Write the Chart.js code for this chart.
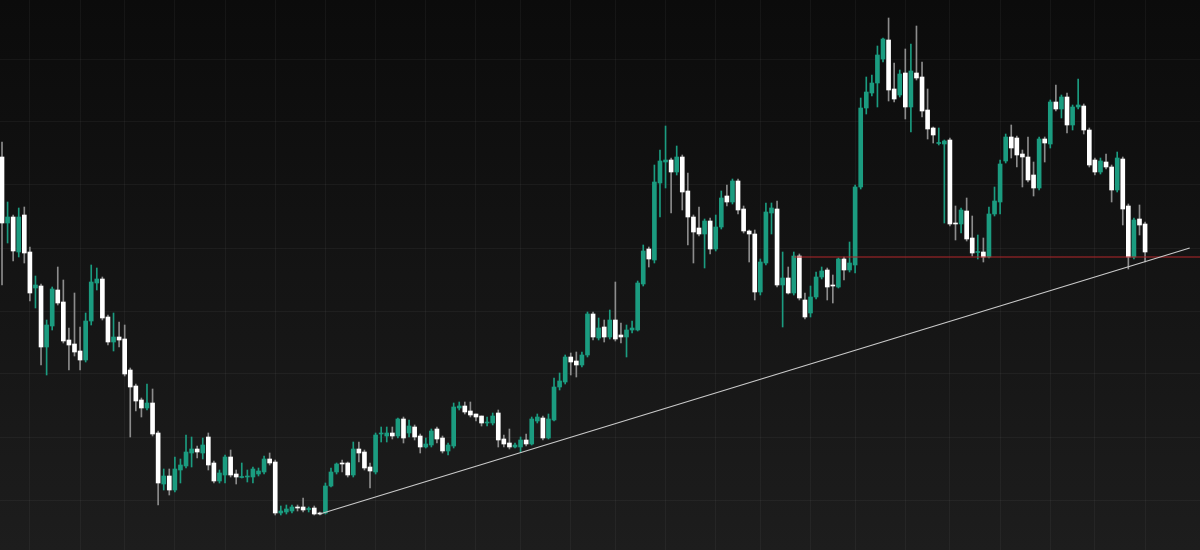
<!DOCTYPE html>
<html><head><meta charset="utf-8">
<script src="https://cdn.jsdelivr.net/npm/chart.js@4.4.1/dist/chart.umd.min.js"></script>
<style>
html,body{margin:0;padding:0;background:#121212;}
#wrap{width:1200px;height:550px;background:linear-gradient(to bottom,#0b0b0b 0%,#1d1d1d 100%);}
canvas{display:block;}
</style></head><body>
<div id="wrap"><canvas id="c" width="1200" height="550"></canvas></div>
<script>
const opens = [393,327,333,298,335,298,262,264,203,224,260,248,210,206,199,190,229,267,271,233,208,213,211,180,164,150,142,147,117,66,74,60,80,84,97,101,97,113,87,69,75,93,76,72.5,73,73,76,78,91,88,37,38,39,43,43,40.5,42,37,37,64,78,87,87,75,101,98,83,78,116,114,117,114,131,117,123,114,103,105,121,112,99,104,142,144,139,136,134,127,127,137,111,107,103,103,110,106,129,132,112,130,163,168,193,189,185,195,236,212,223,213,230,215,213,220,220,266,301,290,367,388,390,378,393,359,333,322,316,329,301,323,354,348,369,341,319,316,258,287,337,341,265,272,257,294,250,237,253,273,280,265,263,291,280,285,363,442,457,467,491,510,461,455,477,443,477,473,440,422,406.5,406,410,327,326,339,312,297.5,298,293,336,348,389,413,412,396,393,375,362,411,406,448,441,453,425,443,444,420,390,378,388,383,360,391,344,293,331,326];
const highs = [408,348,335,342,343,303,274,266,230,263,283,270,222,257,223,237,285,282,273,235,237,228,225,182,166,152,166,161,119,81,81,93,91,115,113,104,112,117,89,80,95,100,80,87,80,83,82,94,97,90,44,45,45,45,52,43,44,38,67,82,87,90,88,108,108,100,87,117,123,123,123,132,133,130,125,116,112,121,123,114,107,147,148,148,148,136,134,133,137,140,115,121,107,113,116,133,136,134,136,172,177,195,197,198,198,238,238,232,230,240,268,227,225,229,269,305,303,385,400,424,392,404,395,377,335,343,331,332,335,359,365,371,371,344,320,320,291,347,347,349,298,283,298,296,257,264,278,283,282,275,292,293,308,365,452,473,475,504,512,532,487,480,501,506,524,488,461,423,422,410,412,344,342,352,334,315,312,343,363,390,416,425,414,400,413,388,413,413,450,465,455,457,445,471,446,422,392,392,396,385,398,393,346,332,345,328];
const lows = [265,307,289,293,287,249,242,185,175,220,245,207,180,194,180,188,225,260,230,205,199,203,174,113,139,133,140,114,45,60,55,58,67,82,83,92,91,80,67,67,67,73,66,72,68,67,74,76,85,35,35,36,37,39,38,38,35,35,36,63,76,78,73,73,88,80,62,76,108,108,111,112,107,113,110,97,102,103,107,97,95,102,140,136,133,129,124,124,125,103,103,101,102,98,104,105,127,110,111,129,160,166,175,173,183,193,210,210,208,211,209,207,193,217,219,264,283,287,333,362,337,375,340,305,287,314,282,296,299,321,344,346,336,317,288,250,255,285,316,263,223,256,255,250,231,233,251,271,250,247,262,270,278,277,361,436,454,443,488,449,448,453,431,418,470,433,411,407,405,327,324,310,317,309,294,291,288,292,334,336,387,392,383,363,368,354,360,388,402,439,432,417,420,441,416,383,375,376,381,348,358,325,281,291,315,288];
const closes = [327,333,299,333,297,257,265,203,225,261,247,209,205,198,190,229,268,271,232,208,213,210,176,163,149,142,147,116,67,74,60,81,85,98,101,98,105,85,69,77,93,75,73,73.5,74,81,79,91,87,37,39,41,43,42,40,41.5,36,36,64,78,86,86,75,101,97,82,79,115,117,117,114,131,112,124,113,103,106,119,111,99,105,143,144,138,135,133,127,128,134,110,106,103,105,110,106,131,133,112,131,163,169,193,188,185,195,236,213,222,213,230,211,213,220,222,267,299,291,368,389,390,378,393,358,333,318,316,329,301,323,352,348,369,340,319,316,258,288,338,342,265,272,257,294,252,233,253,273,279,263,264,291,280,287,363,442,458,467,495,511,460,451,476,443,479,472,439,421,415,407.5,409,326,326,340,311,297,298.5,293,336,349,386,413,402,395,393,370,362,411,407,448,441,453,425,443,445,420,385,378,389,383,360,392,341,293,330,325,298];

// Drawn annotations, in (session index, price) terms
const trendSession = [57, 213];
const trendPrice = [36, 302];
const levelSession = [142, 216];
const levelPrice = [293, 293];

// faint grid positions (session index / price)
const gridSessions = [5, 14, 22, 31, 40, 49, 58, 67, 76, 85, 93, 102, 110, 119, 128, 136, 145, 153, 162, 170, 179, 188, 196, 205];
const gridPrices = [50, 113, 176, 239, 302, 365, 428, 491];

const UP = '#1b9c80', DOWN = '#ffffff', UPWICK = '#1b9c80', DOWNWICK = '#8c8c8c';
const isUp = opens.map((o, i) => closes[i] >= o);

const wickData = highs.map((h, i) => ({x: i, y: [lows[i], h]}));
const bodyData = opens.map((o, i) => ({x: i, y: [Math.min(o, closes[i]), Math.max(o, closes[i])]}));

new Chart(document.getElementById('c'), {
  data: {
    datasets: [
      {type: 'bar', data: wickData, backgroundColor: isUp.map(u => u ? UPWICK : DOWNWICK), barThickness: 1, grouped: false, order: 3},
      {type: 'bar', data: bodyData, backgroundColor: isUp.map(u => u ? UP : DOWN), barThickness: 4, minBarLength: 1, grouped: false, order: 2},
      {type: 'line', data: trendSession.map((s, i) => ({x: s, y: trendPrice[i]})), borderColor: '#c9c9c9', borderWidth: 1.2, pointRadius: 0, order: 1},
      {type: 'line', data: levelSession.map((s, i) => ({x: s, y: levelPrice[i]})), borderColor: '#b3262a', borderWidth: 1.2, pointRadius: 0, order: 1}
    ]
  },
  options: {
    responsive: false,
    animation: false,
    devicePixelRatio: 1,
    layout: {padding: 0},
    plugins: {legend: {display: false}, tooltip: {enabled: false}},
    scales: {
      x: {type: 'linear', offset: false, min: -0.36, max: 214.85, display: true, border: {display: false},
          ticks: {display: false}, grid: {offset: false, color: 'rgba(255,255,255,0.045)', drawTicks: false},
          afterBuildTicks: s => { s.ticks = gridSessions.map(v => ({value: v})); }},
      y: {type: 'linear', min: 0, max: 550, display: true, border: {display: false},
          ticks: {display: false}, grid: {color: 'rgba(255,255,255,0.045)', drawTicks: false},
          afterBuildTicks: s => { s.ticks = gridPrices.map(v => ({value: v})); }}
    }
  }
});
</script>
</body></html>
